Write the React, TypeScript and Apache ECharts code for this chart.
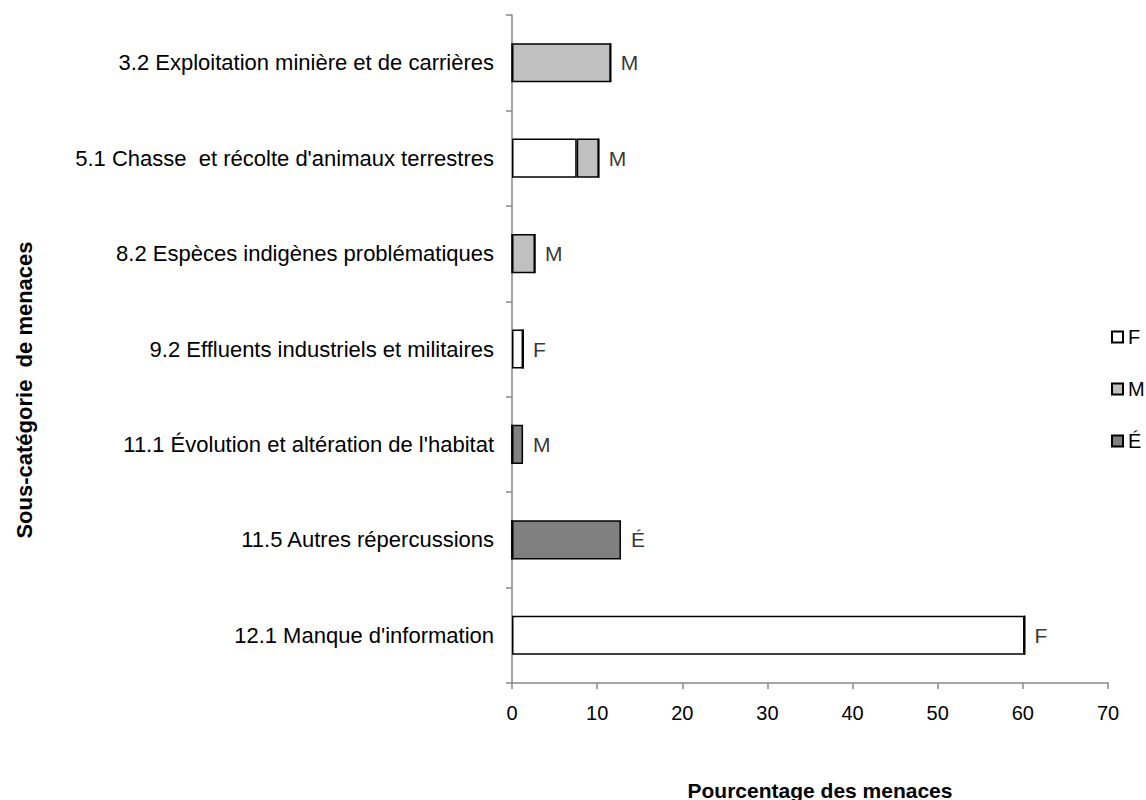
import React, { useEffect, useRef } from "react";
import * as echarts from "echarts";

const categories = [
  "3.2 Exploitation minière et de carrières",
  "5.1 Chasse  et récolte d'animaux terrestres",
  "8.2 Espèces indigènes problématiques",
  "9.2 Effluents industriels et militaires",
  "11.1 Évolution et altération de l'habitat",
  "11.5 Autres répercussions",
  "12.1 Manque d'information",
];
const seriesF = [0, 7.6, 0, 1.3, 0, 0, 60.2];
const seriesM = [11.6, 2.6, 2.7, 0, 0, 0, 0];
const seriesE = [0, 0, 0, 0, 1.3, 12.8, 0];
const barLabels = ["M", "M", "M", "F", "M", "É", "F"];
const xTicks = [0, 10, 20, 30, 40, 50, 60, 70];

const FONT = "Liberation Sans, Arial, sans-serif";

export default function App() {
  const ref = useRef<HTMLDivElement>(null);
  useEffect(() => {
    if (!ref.current) return;
    const chart = echarts.init(ref.current, null, { renderer: "svg" });
    const totals = categories.map((_, i) => seriesF[i] + seriesM[i] + seriesE[i]);
    const barCommon = {
      type: "bar",
      stack: "total",
      barWidth: "41%",
      itemStyle: { borderColor: "#000", borderWidth: 1.5 },
    };
    chart.setOption({
      animation: false,
      textStyle: { fontFamily: FONT },
      grid: { left: 512, right: 38, top: 15, bottom: 117, containLabel: false },
      legend: {
        orient: "vertical",
        left: 1106,
        top: 322,
        itemWidth: 11,
        itemHeight: 11,
        itemGap: 32,
        icon: "rect",
        data: ["F", "M", "É"],
        textStyle: { fontSize: 20, color: "#000", fontFamily: FONT },
      },
      xAxis: {
        type: "value",
        min: xTicks[0],
        max: xTicks[xTicks.length - 1],
        interval: 10,
        splitLine: { show: false },
        axisLine: { show: true, lineStyle: { color: "#888", width: 1.5 } },
        axisTick: { show: true, length: 6, lineStyle: { color: "#888", width: 1.5 } },
        axisLabel: { fontSize: 20, color: "#000", margin: 20, fontFamily: FONT },
      },
      yAxis: {
        type: "category",
        inverse: true,
        data: categories,
        axisLine: { show: true, lineStyle: { color: "#888", width: 1.5 } },
        axisTick: { show: true, length: 6, lineStyle: { color: "#888", width: 1.5 } },
        axisLabel: { fontSize: 22, color: "#000", margin: 18, fontFamily: FONT },
      },
      series: [
        { ...barCommon, name: "F", data: seriesF, itemStyle: { ...barCommon.itemStyle, color: "#ffffff" } },
        { ...barCommon, name: "M", data: seriesM, itemStyle: { ...barCommon.itemStyle, color: "#c0c0c0" } },
        { ...barCommon, name: "É", data: seriesE, itemStyle: { ...barCommon.itemStyle, color: "#808080" } },
        {
          type: "scatter",
          name: "labels",
          symbolSize: 0,
          silent: true,
          data: totals.map((t, i) => [t, categories[i]]),
          label: {
            show: true,
            position: "right",
            distance: 10,
            formatter: (p: any) => barLabels[p.dataIndex],
            fontSize: 21,
            color: "#000",
            fontFamily: FONT,
          },
        },
      ],
      graphic: [
        {
          type: "text",
          x: 24,
          y: 390,
          rotation: Math.PI / 2,
          style: {
            text: "Sous-catégorie  de menaces",
            font: "bold 22px " + FONT,
            fill: "#000",
            textAlign: "center",
            textVerticalAlign: "middle",
          },
        },
        {
          type: "text",
          x: 820,
          y: 790,
          style: {
            text: "Pourcentage des menaces",
            font: "bold 21px " + FONT,
            fill: "#000",
            textAlign: "center",
            textVerticalAlign: "middle",
          },
        },
      ],
    });
    return () => chart.dispose();
  }, []);
  return (
    <div
      ref={ref}
      style={{ position: "absolute", left: 0, top: 0, width: 1146, height: 800 }}
    />
  );
}
